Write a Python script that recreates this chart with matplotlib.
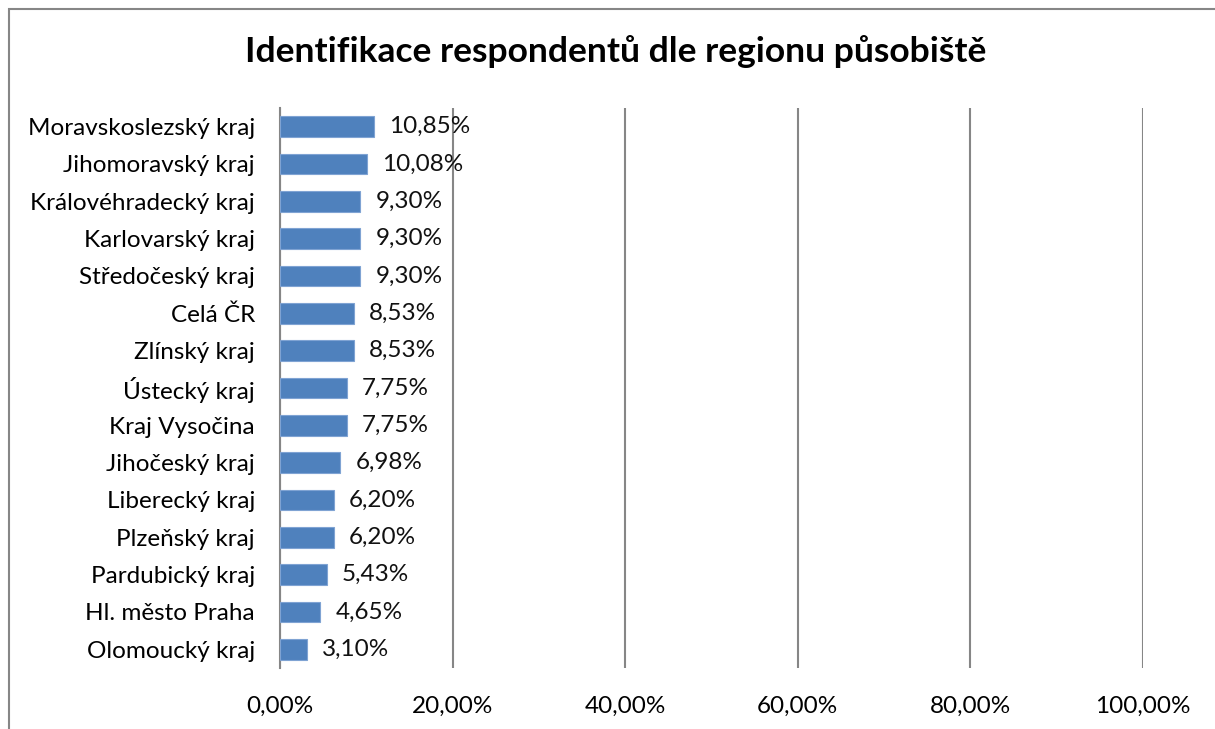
import matplotlib
matplotlib.use("Agg")
import matplotlib.pyplot as plt
from matplotlib.patches import Rectangle

regions = ["Moravskoslezský kraj", "Jihomoravský kraj", "Královéhradecký kraj",
           "Karlovarský kraj", "Středočeský kraj", "Celá ČR", "Zlínský kraj",
           "Ústecký kraj", "Kraj Vysočina", "Jihočeský kraj", "Liberecký kraj",
           "Plzeňský kraj", "Pardubický kraj", "Hl. město Praha", "Olomoucký kraj"]
shares = [10.85, 10.08, 9.30, 9.30, 9.30, 8.53, 8.53, 7.75, 7.75, 6.98,
          6.20, 6.20, 5.43, 4.65, 3.10]
xticks = [0, 20, 40, 60, 80, 100]

plt.rcParams["font.family"] = ["Lato", "DejaVu Sans"]

fig = plt.figure(figsize=(12.15, 7.29), dpi=100)
ax = fig.add_axes([280 / 1215, 1 - 668 / 729, 863 / 1215, 560 / 729])

# chart border (Excel style, cut off at right/bottom)
fig.patches.append(Rectangle((9 / 1215, -0.1), 1.2, 1 - 9 / 729 + 0.1,
                             transform=fig.transFigure, fill=False,
                             edgecolor="#868686", linewidth=1.5))

y = list(range(len(regions)))
ax.barh(y, shares, height=0.55, color="#4F81BD", edgecolor="#7FA3D3",
        linewidth=0.8, zorder=3)
for yi, v in zip(y, shares):
    ax.annotate(f"{v:.2f}%".replace(".", ","), (v, yi), xytext=(11, 0),
                textcoords="offset points", va="center", ha="left",
                fontsize=17.5, color="#111111")

ax.set_xlim(0, 100)
ax.set_ylim(len(regions) - 0.5, -0.5)
ax.set_yticks(y)
ax.set_yticklabels(regions, fontsize=17.5)
ax.set_xticks(xticks)
ax.set_xticklabels([f"{t},00%" for t in xticks], fontsize=17.5)
ax.tick_params(length=0)
ax.tick_params(axis="y", pad=18)
ax.tick_params(axis="x", pad=20)
ax.grid(axis="x", color="#868686", linewidth=1.5, zorder=0)
for s in ["top", "right", "bottom"]:
    ax.spines[s].set_visible(False)
ax.spines["left"].set_color("#868686")
ax.spines["left"].set_linewidth(1.5)

fig.text(616 / 1215, 1 - 52 / 729, "Identifikace respondentů dle regionu působiště",
         ha="center", va="center", fontsize=25.5, fontweight="bold")

fig.savefig("out.png", dpi=100)
